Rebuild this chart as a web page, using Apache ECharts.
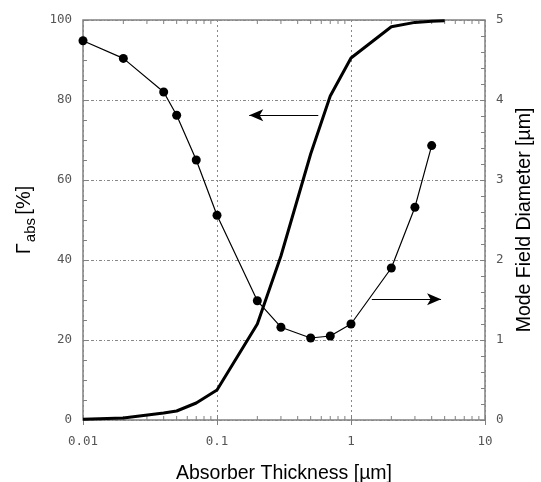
<!DOCTYPE html>
<html>
<head>
<meta charset="utf-8">
<script src="https://cdn.jsdelivr.net/npm/echarts@6/dist/echarts.min.js"></script>
<style>
  html, body { margin: 0; padding: 0; background: #fff; }
  #main { width: 541px; height: 482px; }
</style>
</head>
<body>
<div id="main"></div>
<script>
  // absorber thickness [um]
  var thicknessGamma = [0.01, 0.02, 0.04, 0.05, 0.07, 0.1, 0.2, 0.3, 0.5, 0.7, 1, 2, 3, 4, 5];
  var gammaAbs = [0.2, 0.5, 1.75, 2.25, 4.25, 7.5, 24, 41, 66.5, 81, 90.5, 98.3, 99.4, 99.7, 99.8];

  var thicknessMfd = [0.01, 0.02, 0.04, 0.05, 0.07, 0.1, 0.2, 0.3, 0.5, 0.7, 1, 2, 3, 4];
  var modeField = [4.74, 4.52, 4.1, 3.81, 3.25, 2.56, 1.49, 1.16, 1.025, 1.05, 1.2, 1.9, 2.66, 3.43];

  var arrowLeft = [[0.57, 76.2], [0.174, 76.2]];   // on Gamma axis
  var arrowRight = [[1.43, 1.51], [4.7, 1.51]];    // on MFD axis

  var xTicks = [0.01, 0.1, 1, 10];
  var minorX = [];
  for (var d = 0; d < 3; d++) {
    for (var m = 2; m <= 9; m++) {
      minorX.push(+(m * xTicks[d]).toFixed(4));
    }
  }

  var labelFont = { color: '#555', fontFamily: 'DejaVu Sans Mono', fontSize: 12.5 };
  var gridLine = { color: '#888', width: 1 };

  var chart = echarts.init(document.getElementById('main'));
  chart.setOption({
    backgroundColor: '#fff',
    animation: false,
    grid: {
      left: 83, right: 56, top: 20, bottom: 62,
      outerBoundsMode: 'none',
      containLabel: false,
      show: true, borderColor: '#808080', borderWidth: 1.5
    },
    xAxis: [
      {
        type: 'log', logBase: 10, min: 0.01, max: 10,
        name: 'Absorber Thickness [µm]',
        nameLocation: 'middle', nameGap: 44,
        nameTextStyle: { color: '#000', fontFamily: 'Liberation Sans', fontSize: 19.5 },
        axisLine: { show: false },
        axisTick: { inside: true, length: 5, lineStyle: { color: '#808080' } },
        axisLabel: Object.assign({ margin: 15 }, labelFont),
        splitLine: { show: true, lineStyle: Object.assign({ type: [2, 3] }, gridLine) }
      },
      {
        type: 'log', logBase: 10, min: 0.01, max: 10, position: 'top',
        axisLine: { show: false },
        axisTick: { inside: true, length: 5, lineStyle: { color: '#808080' } },
        axisLabel: { show: false },
        splitLine: { show: false }
      }
    ],
    yAxis: [
      {
        type: 'value', min: 0, max: 100, interval: 20,
        name: '{g|Γ}{s|abs} {g|[%]}',
        nameLocation: 'middle', nameGap: 44, nameRotate: 90,
        nameTextStyle: {
          color: '#000',
          rich: {
            g: { fontFamily: 'Liberation Sans', fontSize: 20, color: '#000', lineHeight: 28 },
            s: { fontFamily: 'Liberation Sans', fontSize: 15, color: '#000', verticalAlign: 'bottom', padding: [10, 0, 0, 1] }
          }
        },
        axisLine: { show: false },
        axisTick: { inside: true, length: 5, lineStyle: { color: '#808080' } },
        minorTick: { show: true, splitNumber: 4, length: 4, lineStyle: { color: '#808080' } },
        axisLabel: Object.assign({ margin: 11 }, labelFont),
        splitLine: { show: true, lineStyle: Object.assign({ type: [3, 2, 1, 2] }, gridLine) }
      },
      {
        type: 'value', min: 0, max: 5, interval: 1, position: 'right',
        name: 'Mode Field Diameter [µm]',
        nameLocation: 'middle', nameGap: 28, nameRotate: 90,
        nameTextStyle: { color: '#000', fontFamily: 'Liberation Sans', fontSize: 19.5 },
        axisLine: { show: false },
        axisTick: { inside: true, length: 5, lineStyle: { color: '#808080' } },
        minorTick: { show: true, splitNumber: 5, length: 4, lineStyle: { color: '#808080' } },
        axisLabel: Object.assign({ margin: 11 }, labelFont),
        splitLine: { show: false }
      }
    ],
    series: [
      {
        // log minor ticks 2..9 on bottom and top
        type: 'custom',
        xAxisIndex: 0, yAxisIndex: 0,
        silent: true,
        data: minorX,
        renderItem: function (params, api) {
          var b = api.coord([api.value(0), 0]);
          var t = api.coord([api.value(0), 100]);
          var st = { stroke: '#808080', lineWidth: 1 };
          return {
            type: 'group',
            children: [
              { type: 'line', shape: { x1: b[0], y1: b[1], x2: b[0], y2: b[1] - 4 }, style: st },
              { type: 'line', shape: { x1: t[0], y1: t[1], x2: t[0], y2: t[1] + 4 }, style: st }
            ]
          };
        },
        encode: { x: 0 }
      },
      {
        name: 'Gamma abs',
        type: 'line',
        xAxisIndex: 0, yAxisIndex: 0,
        data: thicknessGamma.map(function (x, i) { return [x, gammaAbs[i]]; }),
        showSymbol: false,
        lineStyle: { color: '#000', width: 3 },
        markLine: {
          silent: true,
          symbol: ['none', 'arrow'],
          symbolSize: [9, 14],
          label: { show: false },
          lineStyle: { color: '#000', width: 1, type: 'solid' },
          data: [[{ coord: arrowLeft[0] }, { coord: arrowLeft[1] }]]
        }
      },
      {
        name: 'Mode field diameter',
        type: 'line',
        xAxisIndex: 0, yAxisIndex: 1,
        data: thicknessMfd.map(function (x, i) { return [x, modeField[i]]; }),
        symbol: 'circle', symbolSize: 9,
        itemStyle: { color: '#000' },
        lineStyle: { color: '#000', width: 1.2 },
        markLine: {
          silent: true,
          symbol: ['none', 'arrow'],
          symbolSize: [9, 14],
          label: { show: false },
          lineStyle: { color: '#000', width: 1, type: 'solid' },
          data: [[{ coord: arrowRight[0] }, { coord: arrowRight[1] }]]
        }
      }
    ]
  });
</script>
</body>
</html>
